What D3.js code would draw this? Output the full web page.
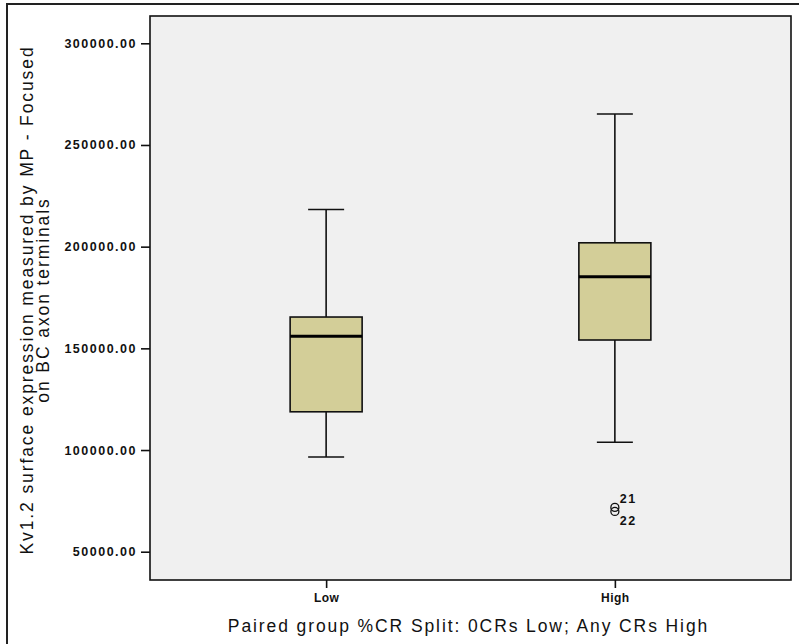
<!DOCTYPE html>
<html>
<head>
<meta charset="utf-8">
<script src="https://cdn.jsdelivr.net/npm/d3@7"></script>
<style>
  body { margin: 0; background: #fff; }
  svg { display: block; }
</style>
</head>
<body>
<div id="chart"></div>
<script>
// data
const categories = ['Low', 'High'];
const whiskerLow = [96600, 103800];
const q1 = [118800, 154100];
const median = [156000, 185200];
const q3 = [165400, 201900];
const whiskerHigh = [218300, 265200];
const outlierGroup = ['High', 'High'];
const outlierValues = [71800, 69800];
const outlierLabels = ['21', '22'];
const yTicks = [50000, 100000, 150000, 200000, 250000, 300000];

const width = 799;
const height = 644;
const plot = {left: 150, top: 16, right: 791, bottom: 580};
const boxFill = '#d3ce98';
const tickFont = `bold 12.5px "Liberation Sans", Arial, sans-serif`;
const titleFont = `17.5px "Liberation Sans", Arial, sans-serif`;

const xScale = d3.scalePoint()
  .domain(categories)
  .range([plot.left, plot.right])
  .padding(0.61);

const yScale = d3.scaleLinear()
  .domain([36090, 313420])
  .range([plot.bottom, plot.top]);

const boxWidth = 72;
const capWidth = 36;

const svg = d3.select('#chart').append('svg')
  .attr('width', width)
  .attr('height', height);

// outer frame
svg.append('rect')
  .attr('x', 7).attr('y', 4)
  .attr('width', width + 20).attr('height', height + 20)
  .attr('fill', 'none')
  .attr('stroke', '#222')
  .attr('stroke-width', 2);

// plot area
svg.append('rect')
  .attr('x', plot.left).attr('y', plot.top)
  .attr('width', plot.right - plot.left)
  .attr('height', plot.bottom - plot.top)
  .attr('fill', '#f0f0f0')
  .attr('stroke', '#111')
  .attr('stroke-width', 1.6);

// y axis
const yAxis = svg.append('g')
  .attr('transform', `translate(${plot.left},0)`)
  .call(d3.axisLeft(yScale).tickValues(yTicks).tickFormat(d3.format('.2f')).tickSize(9).tickPadding(4))
  .call(g => g.select('.domain').remove());
yAxis.selectAll('.tick line').attr('stroke', '#111').attr('stroke-width', 1.6);
yAxis.selectAll('.tick text')
  .style('font', tickFont)
  .style('letter-spacing', '1.5px')
  .attr('fill', '#111');

// x axis
const xAxis = svg.append('g')
  .attr('transform', `translate(0,${plot.bottom})`)
  .call(d3.axisBottom(xScale).tickSize(8).tickPadding(5))
  .call(g => g.select('.domain').remove());
xAxis.selectAll('.tick line').attr('stroke', '#111').attr('stroke-width', 1.6);
xAxis.selectAll('.tick text')
  .style('font', `bold 12px "Liberation Sans", Arial, sans-serif`)
  .style('letter-spacing', '0.5px')
  .attr('fill', '#111');

// boxes
const rows = categories.map((c, i) => ({
  cat: c, lo: whiskerLow[i], q1: q1[i], med: median[i], q3: q3[i], hi: whiskerHigh[i]
}));

const boxes = svg.append('g').selectAll('g')
  .data(rows)
  .join('g');

boxes.append('line')
  .attr('x1', d => xScale(d.cat)).attr('x2', d => xScale(d.cat))
  .attr('y1', d => yScale(d.hi)).attr('y2', d => yScale(d.lo))
  .attr('stroke', '#111').attr('stroke-width', 1.6);

boxes.append('line')
  .attr('x1', d => xScale(d.cat) - capWidth / 2).attr('x2', d => xScale(d.cat) + capWidth / 2)
  .attr('y1', d => yScale(d.hi)).attr('y2', d => yScale(d.hi))
  .attr('stroke', '#111').attr('stroke-width', 1.6);

boxes.append('line')
  .attr('x1', d => xScale(d.cat) - capWidth / 2).attr('x2', d => xScale(d.cat) + capWidth / 2)
  .attr('y1', d => yScale(d.lo)).attr('y2', d => yScale(d.lo))
  .attr('stroke', '#111').attr('stroke-width', 1.6);

boxes.append('rect')
  .attr('x', d => xScale(d.cat) - boxWidth / 2)
  .attr('width', boxWidth)
  .attr('y', d => yScale(d.q3))
  .attr('height', d => yScale(d.q1) - yScale(d.q3))
  .attr('fill', boxFill)
  .attr('stroke', '#111').attr('stroke-width', 1.6);

boxes.append('line')
  .attr('x1', d => xScale(d.cat) - boxWidth / 2).attr('x2', d => xScale(d.cat) + boxWidth / 2)
  .attr('y1', d => yScale(d.med)).attr('y2', d => yScale(d.med))
  .attr('stroke', '#000').attr('stroke-width', 3);

// outliers
const outs = outlierValues.map((v, i) => ({cat: outlierGroup[i], v: v, label: outlierLabels[i]}));
svg.append('g').selectAll('circle')
  .data(outs)
  .join('circle')
  .attr('cx', d => xScale(d.cat))
  .attr('cy', d => yScale(d.v))
  .attr('r', 4)
  .attr('fill', 'none')
  .attr('stroke', '#111')
  .attr('stroke-width', 1.3);

svg.append('g').selectAll('text')
  .data(outs)
  .join('text')
  .attr('x', d => xScale(d.cat) + 5)
  .attr('y', (d, i) => i === 0 ? yScale(d.v) - 4 : yScale(d.v) + 14)
  .style('font', `bold 12.5px "Liberation Sans", Arial, sans-serif`)
  .style('letter-spacing', '1.5px')
  .attr('fill', '#111')
  .text(d => d.label);

// axis titles
const yTitle = svg.append('text')
  .attr('transform', `translate(33,${300}) rotate(-90)`)
  .attr('text-anchor', 'middle')
  .style('font', titleFont)
  .style('letter-spacing', '1.9px')
  .attr('fill', '#111');
yTitle.append('tspan').attr('x', 0).attr('dy', 0)
  .text('Kv1.2 surface expression measured by MP - Focused');
yTitle.append('tspan').attr('x', 0).attr('dy', 16)
  .text('on BC axon terminals');

svg.append('text')
  .attr('x', (plot.left + plot.right) / 2 - 2)
  .attr('y', 632)
  .attr('text-anchor', 'middle')
  .style('font', titleFont)
  .style('letter-spacing', '1.9px')
  .attr('fill', '#111')
  .text('Paired group %CR Split: 0CRs Low; Any CRs High');
</script>
</body>
</html>
